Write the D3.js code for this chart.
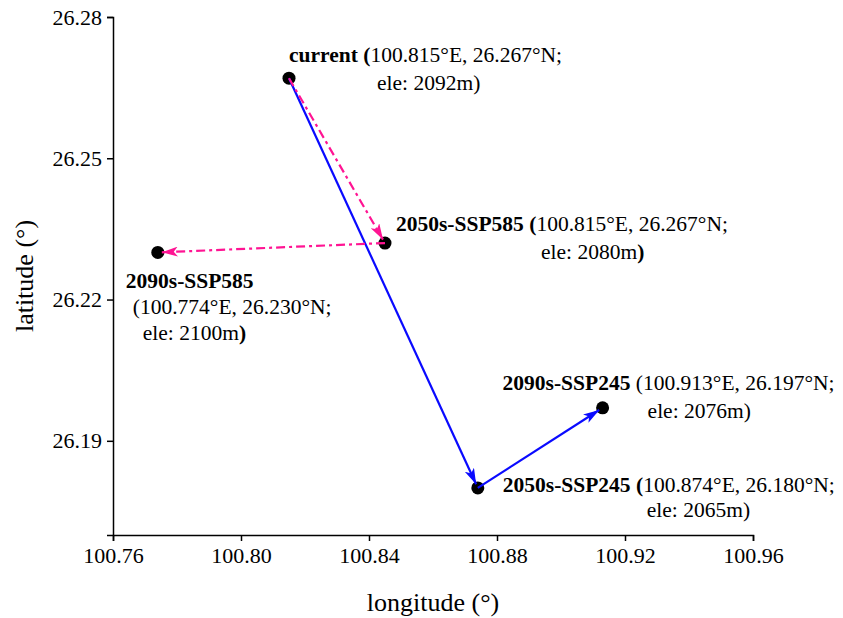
<!DOCTYPE html>
<html>
<head>
<meta charset="utf-8">
<script src="https://cdn.jsdelivr.net/npm/d3@7"></script>
<style>
  body { margin: 0; background: #fff; }
  text { font-family: "Liberation Serif", "Times New Roman", serif; fill: #000; }
</style>
</head>
<body>
<svg id="chart"></svg>
<script>
// points (plotted position)
var names = ["current", "2050s-SSP245", "2090s-SSP245", "2050s-SSP585", "2090s-SSP585"];
var lon = [100.815, 100.874, 100.913, 100.845, 100.774];
var lat = [26.267, 26.180, 26.197, 26.232, 26.230];
// label texts as written on the figure
var coordText = ["(100.815°E, 26.267°N;", "(100.874°E, 26.180°N;", "(100.913°E, 26.197°N;", "(100.815°E, 26.267°N;", "(100.774°E, 26.230°N;"];
var eleText = ["ele: 2092m)", "ele: 2065m)", "ele: 2076m)", "ele: 2080m)", "ele: 2100m)"];
// routes (indexes into the point arrays)
var ssp245Route = [0, 1, 2];
var ssp585Route = [0, 3, 4];
var xTicks = [100.76, 100.80, 100.84, 100.88, 100.92, 100.96];
var yTicks = [26.19, 26.22, 26.25, 26.28];

var W = 843, H = 618;
var margin = {top: 17, right: 90, bottom: 83, left: 113};
var width = W - margin.left - margin.right;
var height = H - margin.top - margin.bottom;

var svg = d3.select("#chart").attr("width", W).attr("height", H);
var g = svg.append("g").attr("transform", "translate(" + margin.left + "," + margin.top + ")");

var x = d3.scaleLinear().domain([100.76, 100.96]).range([0, width]);
var y = d3.scaleLinear().domain([26.17, 26.28]).range([height, 0]);

// axes
var xAxis = d3.axisBottom(x).tickValues(xTicks).tickFormat(d3.format(".2f"))
    .tickSizeOuter(0).tickSize(6).tickPadding(6);
var yAxis = d3.axisLeft(y).tickValues(yTicks).tickFormat(d3.format(".2f"))
    .tickSizeOuter(0).tickSize(6).tickPadding(5);

var gx = g.append("g").attr("transform", "translate(0," + height + ")").call(xAxis);
var gy = g.append("g").call(yAxis);
[gx, gy].forEach(function(a) {
  a.select(".domain").attr("stroke", "#000").attr("stroke-width", 1.5);
  a.selectAll(".tick line").attr("stroke", "#000").attr("stroke-width", 1.5);
  a.selectAll(".tick text").attr("font-size", 22).attr("font-family", "Liberation Serif, serif").attr("fill", "#000");
});

// axis titles
svg.append("text")
  .attr("x", margin.left + width / 2).attr("y", 611)
  .attr("text-anchor", "middle").attr("font-size", 26)
  .text("longitude (°)");
svg.append("text")
  .attr("transform", "translate(33," + (margin.top + height / 2) + ") rotate(-90)")
  .attr("text-anchor", "middle").attr("font-size", 26)
  .text("latitude (°)");

// arrow markers
var defs = svg.append("defs");
function marker(id, color) {
  defs.append("marker")
    .attr("id", id)
    .attr("viewBox", "0 0 16 10")
    .attr("refX", 16).attr("refY", 5)
    .attr("markerUnits", "userSpaceOnUse")
    .attr("markerWidth", 16).attr("markerHeight", 10)
    .attr("orient", "auto")
    .append("path")
    .attr("d", "M0,0 L16,5 L0,10 L4,5 Z")
    .attr("fill", color);
}
marker("arrBlue", "#0a0aff");
marker("arrPink", "#ff1493");

// dots
g.selectAll("circle.pt")
  .data(names)
  .enter().append("circle")
  .attr("class", "pt")
  .attr("cx", function(d, i) { return x(lon[i]); })
  .attr("cy", function(d, i) { return y(lat[i]); })
  .attr("r", 6.5)
  .attr("fill", "#000");

// route segments, stop a little before the target dot
function drawRoute(route, color, mk, dash) {
  for (var k = 0; k < route.length - 1; k++) {
    var a = route[k], b = route[k + 1];
    var x1 = x(lon[a]), y1 = y(lat[a]), x2 = x(lon[b]), y2 = y(lat[b]);
    var len = Math.hypot(x2 - x1, y2 - y1);
    var s = (len - 4) / len;
    g.append("line")
      .attr("x1", x1).attr("y1", y1)
      .attr("x2", x1 + (x2 - x1) * s).attr("y2", y1 + (y2 - y1) * s)
      .attr("stroke", color)
      .attr("stroke-width", 2.2)
      .attr("stroke-dasharray", dash)
      .attr("marker-end", "url(#" + mk + ")");
  }
}
drawRoute(ssp245Route, "#0a0aff", "arrBlue", null);
drawRoute(ssp585Route, "#ff1493", "arrPink", "9,4,3,4");

// labels: offsets from each dot
var labelPos = [
  {l1: [0, -16], l2: [88, 12]},
  {l1: [25, 4], l2: [169, 29]},
  {l1: [-100, -18], l2: [45, 10]},
  {l1: [11, -12], l2: [156, 16]},
  {l1: [-32, 36], l2: [-25, 62], l3: [-15, 88]}
];
var boldOpen = [true, true, false, true, false];
var boldClose = [false, false, false, true, true];
var fs = 21.5;

names.forEach(function(name, i) {
  var px = x(lon[i]), py = y(lat[i]);
  var p = labelPos[i];
  var open = coordText[i].slice(0, 1), restCoord = coordText[i].slice(1);
  var ele = eleText[i].slice(0, -1), close = eleText[i].slice(-1);

  var t1 = g.append("text").attr("x", px + p.l1[0]).attr("y", py + p.l1[1]).attr("font-size", fs);
  t1.append("tspan").attr("font-weight", "bold").text(name);
  var coordLine = t1;
  if (p.l3) {
    coordLine = g.append("text").attr("x", px + p.l2[0]).attr("y", py + p.l2[1]).attr("font-size", fs);
  } else {
    t1.append("tspan").text(" ");
  }
  coordLine.append("tspan").attr("font-weight", boldOpen[i] ? "bold" : "normal").text(open);
  coordLine.append("tspan").text(restCoord);

  var pe = p.l3 ? p.l3 : p.l2;
  var t3 = g.append("text").attr("x", px + pe[0]).attr("y", py + pe[1]).attr("font-size", fs);
  t3.append("tspan").text(ele);
  t3.append("tspan").attr("font-weight", boldClose[i] ? "bold" : "normal").text(close);
});
</script>
</body>
</html>
